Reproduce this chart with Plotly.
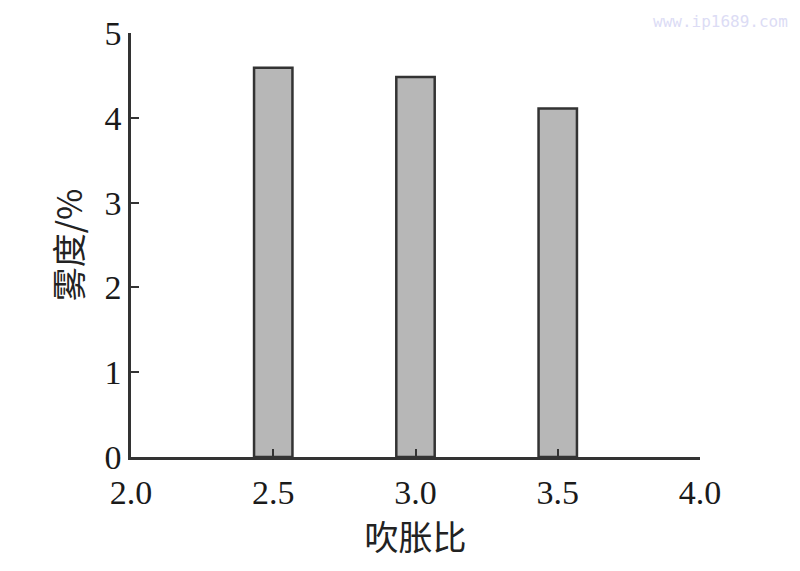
import plotly.graph_objects as go

blow_up_ratio = [2.5, 3.0, 3.5]
haze = [4.59, 4.48, 4.11]
x_ticks = [2.0, 2.5, 3.0, 3.5, 4.0]
x_tick_labels = ["2.0", "2.5", "3.0", "3.5", "4.0"]
y_ticks = [0, 1, 2, 3, 4, 5]

fig = go.Figure()
fig.add_trace(go.Bar(
    x=blow_up_ratio, y=haze, width=0.135,
    marker=dict(color="#b7b7b7", line=dict(color="#333333", width=2.5)),
    showlegend=False,
))

serif = "Liberation Serif"
cjk = "Noto Sans CJK SC"
fig.update_layout(
    template="none",
    width=800, height=571,
    paper_bgcolor="white", plot_bgcolor="white",
    margin=dict(l=123, r=108, t=25, b=122),
    font=dict(family=serif, color="#222222"),
    xaxis=dict(
        automargin=False,
        range=[2.0, 4.0], tickvals=x_ticks, ticktext=x_tick_labels,
        showline=True, linecolor="#333333", linewidth=2.5,
        ticks="inside", ticklen=8, tickwidth=2, tickcolor="#333333",
        showgrid=False, zeroline=False, ticklabelstandoff=3,
        tickfont=dict(family=serif, size=34, color="#1a1a1a"),
        title=dict(text="吹胀比", font=dict(family=cjk, size=34, color="#222222"), standoff=0),
    ),
    yaxis=dict(
        automargin=False,
        range=[0, 5], tickvals=y_ticks,
        showline=True, linecolor="#333333", linewidth=2.5,
        ticks="inside", ticklen=8, tickwidth=2, tickcolor="#333333",
        showgrid=False, zeroline=False,
        tickfont=dict(family=serif, size=34, color="#1a1a1a"),
        title=dict(text="雾度/%", font=dict(family=cjk, size=34, color="#222222"), standoff=12),
    ),
    annotations=[dict(
        text="www.ip1689.com", xref="paper", yref="paper",
        x=1.0, y=1.0, xanchor="right", yanchor="middle", xshift=90, yshift=12,
        showarrow=False,
        font=dict(family="DejaVu Sans Mono", size=16, color="#dcdcf5"),
    )],
)

fig.write_html("out.html")
